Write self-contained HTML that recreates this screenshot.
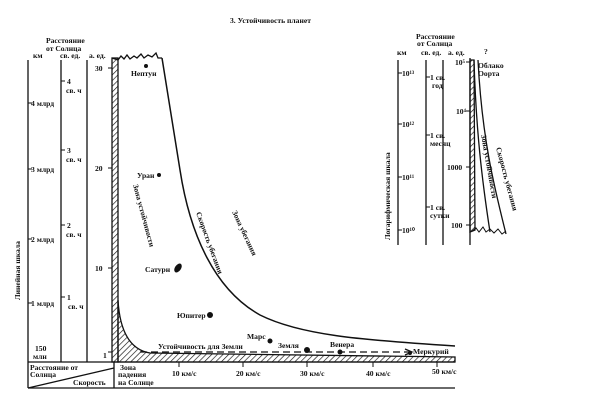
<!DOCTYPE html>
<html><head><meta charset="utf-8"><style>
body{margin:0;background:#fff}
svg{display:block}
text{font-family:"Liberation Serif","Noto Serif CJK SC",serif;font-weight:bold;fill:#111}
</style></head><body>
<svg width="600" height="407" viewBox="0 0 600 407" xmlns="http://www.w3.org/2000/svg">
<defs><pattern id="h" width="4" height="4" patternUnits="userSpaceOnUse" patternTransform="rotate(45)"><line x1="0" y1="0" x2="0" y2="4" stroke="#111" stroke-width="1.3"/></pattern></defs>
<g stroke="#111" fill="none" stroke-width="1.3">
<line x1="28" y1="60" x2="28" y2="362"/>
<line x1="61" y1="60" x2="61" y2="362"/>
<line x1="87" y1="60" x2="87" y2="362"/>
<rect x="112" y="58" width="6" height="304" fill="url(#h)"/>
<path d="M112,58 L118,60 121,56 124,59 127,55 130,59 134,56 137,58 141,54 144,58 148,55 152,57 156,53 158,58 162,58"/>
<path d="M162,58 L180,170 C190,235 215,290 260,315 C300,335 360,340 455,346" stroke-width="1.5"/>
<path d="M118,300 C120,335 132,350 150,353 L455,357 L455,362 L118,362 Z" fill="url(#h)"/>
<path d="M140,352 L410,352" stroke-dasharray="7,4"/>
<path d="M405,349 L412,352 405,355"/>
<line x1="28" y1="362" x2="455" y2="362"/>
<line x1="28" y1="388" x2="455" y2="388"/>
<line x1="28" y1="362" x2="28" y2="388"/>
<line x1="114" y1="362" x2="114" y2="388"/>
<line x1="28" y1="388" x2="114" y2="368"/>
<g stroke-width="1">
<line x1="28" y1="103" x2="32" y2="103"/><line x1="28" y1="169" x2="32" y2="169"/><line x1="28" y1="239" x2="32" y2="239"/><line x1="28" y1="303" x2="32" y2="303"/>
<line x1="61" y1="81" x2="65" y2="81"/><line x1="61" y1="150" x2="65" y2="150"/><line x1="61" y1="225" x2="65" y2="225"/><line x1="61" y1="297" x2="65" y2="297"/>
<line x1="108" y1="68" x2="112" y2="68"/><line x1="108" y1="168" x2="112" y2="168"/><line x1="108" y1="268" x2="112" y2="268"/><line x1="108" y1="352" x2="112" y2="352"/>
<line x1="179" y1="362" x2="179" y2="367"/><line x1="243" y1="362" x2="243" y2="367"/><line x1="307" y1="362" x2="307" y2="367"/><line x1="373" y1="362" x2="373" y2="367"/><line x1="437" y1="362" x2="437" y2="367"/>
</g>
<line x1="398" y1="60" x2="398" y2="245"/>
<line x1="426" y1="60" x2="426" y2="245"/>
<line x1="443" y1="60" x2="443" y2="245"/>
<line x1="470" y1="58" x2="470" y2="245"/>
<path d="M470,60 L474,60 L475,230 L470,232 Z" fill="url(#h)"/>
<path d="M474,60 C476,130 482,180 490,232"/>
<path d="M478,60 C482,140 495,190 506,234"/>
<path d="M472,231 L476,228 479,232 483,227 486,232 490,229 494,233 498,229 502,234 506,231" stroke-width="1"/>
<g stroke-width="1">
<line x1="398" y1="73" x2="402" y2="73"/><line x1="398" y1="124" x2="402" y2="124"/><line x1="398" y1="177" x2="402" y2="177"/><line x1="398" y1="230" x2="402" y2="230"/>
<line x1="426" y1="77" x2="430" y2="77"/><line x1="426" y1="135" x2="430" y2="135"/><line x1="426" y1="207" x2="430" y2="207"/>
<line x1="466" y1="62" x2="470" y2="62"/><line x1="466" y1="111" x2="470" y2="111"/><line x1="466" y1="167" x2="470" y2="167"/><line x1="466" y1="225" x2="470" y2="225"/>
</g>
</g>
<g fill="#111">
<circle cx="146" cy="66" r="2"/><circle cx="159" cy="175" r="2"/>
<ellipse cx="178" cy="268" rx="3" ry="5" transform="rotate(35 178 268)"/>
<circle cx="210" cy="315" r="3"/><circle cx="270" cy="341" r="2.5"/>
<circle cx="307" cy="350" r="3"/><circle cx="340" cy="352" r="2.5"/><circle cx="410" cy="353" r="2"/>
</g>
<g font-size="7.6">
<text x="230" y="23">3. Устойчивость планет</text>
<text x="46" y="43">Расстояние</text><text x="46" y="51">от Солнца</text>
<text x="33" y="58">км</text><text x="60" y="58">св. ед.</text><text x="89" y="58">а. ед.</text>
<text x="31" y="106">4 млрд</text><text x="31" y="172">3 млрд</text><text x="31" y="242">2 млрд</text><text x="31" y="306">1 млрд</text>
<text x="35" y="351">150</text><text x="33" y="359">млн</text>
<text x="67" y="84">4</text><text x="66" y="93">св. ч</text>
<text x="67" y="153">3</text><text x="66" y="162">св. ч</text>
<text x="67" y="228">2</text><text x="66" y="237">св. ч</text>
<text x="67" y="300">1</text><text x="68" y="309">св. ч</text>
<text x="95" y="71">30</text><text x="95" y="171">20</text><text x="95" y="271">10</text><text x="103" y="358">1</text>
<text transform="translate(20,300) rotate(-90)">Линейная шкала</text>
<text x="131" y="76">Нептун</text><text x="137" y="178">Уран</text><text x="145" y="272">Сатурн</text>
<text x="177" y="318">Юпитер</text><text x="247" y="339">Марс</text><text x="278" y="348">Земля</text><text x="330" y="347">Венера</text><text x="413" y="354">Меркурий</text>
<text x="158" y="349">Устойчивость для Земли</text>
<text transform="translate(133,185) rotate(75)">Зона устойчивости</text>
<text transform="translate(196,213) rotate(70)">Скорость убегания</text>
<text transform="translate(232,212) rotate(65)">Зона убегания</text>
<text x="30" y="370">Расстояние от</text><text x="30" y="377">Солнца</text><text x="73" y="385">Скорость</text>
<text x="120" y="370">Зона</text><text x="118" y="377">падения</text><text x="118" y="385">на Солнце</text>
<text x="172" y="376">10 км/с</text><text x="236" y="376">20 км/с</text><text x="300" y="376">30 км/с</text><text x="366" y="376">40 км/с</text><text x="432" y="374">50 км/с</text>
<text x="416" y="39">Расстояние</text><text x="417" y="46">от Солнца</text>
<text x="397" y="55">км</text><text x="421" y="55">св. ед.</text><text x="448" y="55">а. ед.</text>
<text x="402" y="76">10¹³</text><text x="402" y="127">10¹²</text><text x="402" y="180">10¹¹</text><text x="402" y="233">10¹⁰</text>
<text x="430" y="80">1 св.</text><text x="432" y="88">год</text>
<text x="430" y="138">1 св.</text><text x="430" y="146">месяц</text>
<text x="430" y="210">1 св.</text><text x="430" y="218">сутки</text>
<text x="455" y="65">10⁵</text><text x="456" y="114">10⁴</text><text x="447" y="170">1000</text><text x="451" y="228">100</text>
<text x="484" y="54">?</text><text x="478" y="68">Облако</text><text x="478" y="76">Оорта</text>
<text transform="translate(390,240) rotate(-90)">Логарифмическая шкала</text>
<text transform="translate(481,135) rotate(80)">Зона устойчивости</text>
<text transform="translate(496,148) rotate(75)">Скорость убегания</text>
</g>
</svg>
</body></html>
